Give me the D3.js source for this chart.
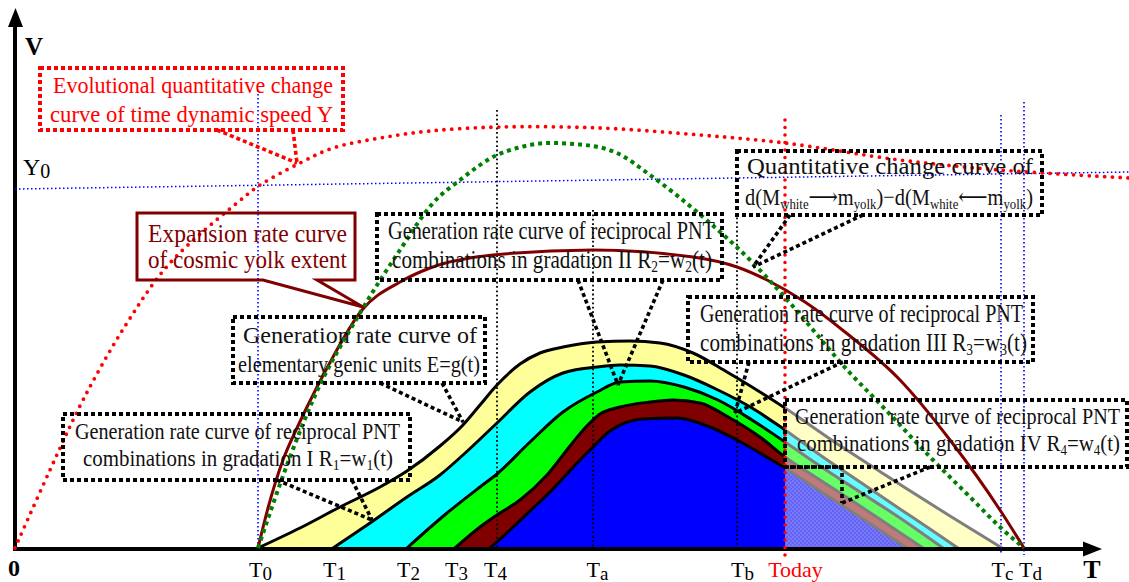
<!DOCTYPE html>
<html><head><meta charset="utf-8">
<script src="https://cdn.jsdelivr.net/npm/d3@7"></script>
<style>
html,body{margin:0;padding:0;background:#fff;}
svg{display:block;}
svg text{font-family:"Liberation Serif","Times New Roman","DejaVu Serif",serif;white-space:pre;}
</style></head><body>
<svg id="chart" width="1129" height="582"></svg>
<script>
// ---------------- DATA (time T in arbitrary units, rate V in arbitrary units) ----------------
const tickMain  = ["T","T","T","T","T","T","T","Today","T","T"];
const tickSubs  = ["0","1","2","3","4","a","b","","c","d"];
const tickTimes = [24.3, 31.8, 39.2, 44.0, 48.2, 57.8, 72.2, 77.0, 98.6, 100.9];

// Evolutional quantitative change curve of time dynamic speed Y
const speedY = [[0,0],[3.5,7.8],[6.8,14.8],[11.2,22.5],[15.5,28.5],[22.8,35.0],[24.5,36.3],[28.5,38.5],[31.8,40.0],[36.5,41.0],[41.5,41.7],[48.5,42.1],[58.5,42.0],[68.5,41.3],[77.0,40.5],[88.5,38.8],[98.5,37.8],[111.4,37.0]];
// Y0 reference level (left end, right end)
const y0Level = [[0,35.9],[111.4,37.6]];
// Quantitative change curve of d(M_white->m_yolk) - d(M_white<-m_yolk)
const quantChange = [[24.3,0],[27.5,9.1],[29.8,14.8],[34.5,23.5],[38.5,29.8],[41.8,34.5],[44.5,36.8],[48.2,39.3],[50.2,40.0],[53.5,40.5],[57.0,40.3],[60.2,39.5],[63.5,37.3],[68.8,33.1],[73.8,28.5],[77.5,24.5],[83.5,17.5],[86.8,14.1],[91.8,8.8],[95.5,5.1],[98.5,2.1],[100.9,0]];
// Expansion rate curve of cosmic yolk extent
const expansion = [[24.3,0],[25.3,4.0],[26.8,8.8],[28.2,12.0],[29.2,14.1],[31.2,18.0],[34.7,23.8],[38.5,26.6],[41.5,28.0],[47.8,29.3],[57.8,29.8],[67.8,29.1],[72.2,28.1],[75.2,26.8],[79.0,24.6],[83.0,21.6],[88.5,16.8],[93.5,10.8],[98.5,3.8],[100.9,0]];
// Generation rate curves (outer to inner)
const layerNames = ["E=g(t)","R1=w1(t)","R2=w2(t)","R3=w3(t)","R4=w4(t)"];
const genE  = [[24.3,0],[28.5,2.0],[32.5,4.1],[36.5,6.1],[39.2,7.7],[42.5,10.2],[44.8,12.3],[46.5,14.3],[48.2,16.3],[50.5,18.4],[52.5,19.5],[54.8,20.1],[58.2,20.6],[61.5,20.7],[64.5,20.5],[67.8,19.5],[71.2,17.6],[74.5,15.6],[77.0,14.0],[82.1,10.5],[85.5,8.3],[88.9,6.1],[93.5,3.2],[98.7,0]];
const genR1 = [[31.8,0],[35.5,2.5],[39.2,5.1],[42.5,7.3],[44.8,9.3],[48.2,12.5],[51.5,15.6],[54.8,17.5],[58.2,18.1],[60.5,18.3],[63.5,18.2],[66.9,17.3],[70.3,15.8],[73.7,14.0],[77.0,11.8],[80.5,9.3],[84.5,6.6],[88.5,3.9],[91.5,1.9],[94.3,0]];
const genR2 = [[39.2,0],[43.2,3.5],[46.5,6.1],[48.2,7.4],[51.5,10.6],[54.8,13.6],[58.2,15.6],[60.5,16.6],[63.5,16.7],[66.9,16.1],[70.3,14.8],[73.7,12.8],[77.0,10.6],[80.5,8.2],[84.5,5.6],[88.5,3.0],[92.8,0]];
const genR3 = [[44.0,0],[46.5,2.1],[48.2,3.3],[50.5,4.8],[53.2,7.3],[55.5,10.2],[57.0,12.0],[58.5,13.4],[60.5,14.1],[63.5,14.6],[65.8,14.8],[68.5,14.5],[71.5,13.0],[74.5,11.1],[77.0,9.1],[80.5,6.8],[84.5,4.2],[87.5,2.2],[90.8,0]];
const genR4 = [[47.5,0],[49.5,1.8],[51.5,3.7],[53.5,5.6],[55.0,7.2],[56.5,8.8],[57.8,10.1],[59.5,11.7],[62.8,12.9],[66.2,13.0],[69.5,12.1],[72.2,10.8],[74.5,9.5],[77.0,8.0],[80.5,5.7],[84.5,3.1],[89.2,0]];

// ---------------- LAYOUT / STYLE ----------------
const W = 1129, H = 582;
const SERIF = '"Liberation Serif","Times New Roman","DejaVu Serif",serif';
const x = d3.scaleLinear().domain([0, 110]).range([15, 1115]);
const y = d3.scaleLinear().domain([0, 54]).range([548, 8]);
const labelDx = [2, 1, 1, 1, -2, 4, 5, 10, 1, 6];
const guideTop = [45.8, 43.8, 33.8, 33.5, 42.8, 43.3, 44.6];
const guideIdx = [0, 4, 5, 6, 7, 8, 9];
const guideBottom = [0, 0, 0, 0, -1.2, -0.7, -0.7];
const guideStyle = ["blue","black","black","black","red","blue","blue"];
const layerDark  = ["#ffff99","#00ffff","#00ff00","#800000","#0000ff"];
const layerLight = ["#ffffc6","#66ffff","#66ff66","#c07a7a","url(#bluePat)"];

const svg = d3.select("#chart");
const defs = svg.append("defs");
const xToday = x(tickTimes[7]);
defs.append("clipPath").attr("id","clipPast").append("rect")
  .attr("x",0).attr("y",0).attr("width",xToday).attr("height",H);
defs.append("clipPath").attr("id","clipFuture").append("rect")
  .attr("x",xToday).attr("y",0).attr("width",W-xToday).attr("height",H);
const pat = defs.append("pattern").attr("id","bluePat").attr("width",4).attr("height",4).attr("patternUnits","userSpaceOnUse");
pat.append("rect").attr("width",4).attr("height",4).attr("fill","#6363f4");
pat.append("rect").attr("width",2).attr("height",2).attr("fill","#7878fb");
pat.append("rect").attr("x",2).attr("y",2).attr("width",2).attr("height",2).attr("fill","#7878fb");

const area = d3.area().x(d=>x(d[0])).y0(y(0)).y1(d=>y(d[1])).curve(d3.curveMonotoneX);
const line = d3.line().x(d=>x(d[0])).y(d=>y(d[1])).curve(d3.curveMonotoneX);

// stacked generation-rate regions
const layers = [genE, genR1, genR2, genR3, genR4];
layers.forEach((L,i)=>{
  const gp = svg.append("g").attr("clip-path","url(#clipPast)").attr("class","layer-"+i);
  gp.append("path").attr("d",area(L)).attr("fill",layerDark[i]);
  gp.append("path").attr("d",line(L)).attr("fill","none").attr("stroke","#000").attr("stroke-width",3);
  const gf = svg.append("g").attr("clip-path","url(#clipFuture)");
  gf.append("path").attr("d",area(L)).attr("fill",layerLight[i]);
  gf.append("path").attr("d",line(L)).attr("fill","none").attr("stroke","#7f7f7f").attr("stroke-width",3);
});

// axes
const xAxis = d3.axisBottom(x).tickValues(tickTimes).tickSize(0).tickFormat("");
const gx = svg.append("g").attr("transform",`translate(0,${y(0)})`).call(xAxis);
gx.select(".domain").remove();
gx.selectAll(".tick").each(function(d,i){
  const t = d3.select(this).append("text")
    .attr("x",labelDx[i]).attr("y",29).attr("text-anchor","middle")
    .attr("fill", i===7 ? "#ff0000" : "#000")
    .style("font-size","22px").style("font-family",SERIF);
  t.append("tspan").text(tickMain[i]);
  if (tickSubs[i]) t.append("tspan").attr("dy",3).style("font-size","19px").text(tickSubs[i]);
});
svg.append("line").attr("x1",x(0)).attr("y1",y(0)+1).attr("x2",1088).attr("y2",y(0)+1)
  .attr("stroke","#000").attr("stroke-width",4);
svg.append("path").attr("d","M1102,549 L1083,541.5 L1083,556.5 Z").attr("fill","#000");
svg.append("line").attr("x1",x(0)).attr("y1",y(0)+3).attr("x2",x(0)).attr("y2",22)
  .attr("stroke","#000").attr("stroke-width",4);
svg.append("path").attr("d","M15.5,8 L8,27 L23,27 Z").attr("fill","#000");

svg.append("text").attr("x",14).attr("y",576).attr("text-anchor","middle")
  .style("font-size","24px").style("font-weight","bold").text("0");
svg.append("text").attr("x",25).attr("y",55)
  .style("font-size","25px").style("font-weight","bold").text("V");
svg.append("text").attr("x",1092).attr("y",578).attr("text-anchor","middle")
  .style("font-size","26px").style("font-weight","bold").text("T");
const y0t = svg.append("text").attr("x",23).attr("y",175).style("font-size","24px");
y0t.append("tspan").text("Y");
y0t.append("tspan").attr("dy",3).style("font-size","20px").text("0");

// reference guides
const guideStroke = {
  blue:{c:"#0000ff",w:1.6,d:"1.6 2.4",cap:"butt"},
  black:{c:"#000",w:1.8,d:"1.8 2.6",cap:"butt"},
  red:{c:"#ff0000",w:3.6,d:"0 7.5",cap:"round"}
};
guideIdx.forEach((k,j)=>{
  const s = guideStroke[guideStyle[j]];
  svg.append("line").attr("x1",x(tickTimes[k])).attr("x2",x(tickTimes[k]))
    .attr("y1",y(guideTop[j])).attr("y2",y(guideBottom[j]))
    .attr("stroke",s.c).attr("stroke-width",s.w).attr("stroke-dasharray",s.d).attr("stroke-linecap",s.cap);
});
svg.append("path").attr("d",d3.line().x(d=>x(d[0])).y(d=>y(d[1]))(y0Level))
  .attr("stroke","#0000ff").attr("stroke-width",1.5).attr("stroke-dasharray","1.5 2.5").attr("fill","none");

// curves
svg.append("path").attr("d",line(expansion)).attr("fill","none").attr("stroke","#800000").attr("stroke-width",3);
svg.append("path").attr("d",line(quantChange)).attr("fill","none").attr("stroke","#008000").attr("stroke-width",4).attr("stroke-dasharray","4 4");
svg.append("path").attr("d",d3.line().x(d=>x(d[0])).y(d=>y(d[1])).curve(d3.curveCatmullRom.alpha(0.5))(speedY))
  .attr("fill","none").attr("stroke","#ff0000").attr("stroke-width",3.8).attr("stroke-dasharray","0 7.8").attr("stroke-linecap","round");

// annotations
function parseSegs(s){
  const out=[]; const re=/_\{([^}]*)\}/g; let last=0, m;
  while((m=re.exec(s))){ if(m.index>last) out.push({t:s.slice(last,m.index),sub:false}); out.push({t:m[1],sub:true}); last=re.lastIndex; }
  if(last<s.length) out.push({t:s.slice(last),sub:false});
  return out;
}
function drawText(g,str,x1,x2,yb,size,fill){
  const t = g.append("text").attr("x",x1).attr("y",yb).attr("fill",fill)
    .style("font-size",size+"px").style("font-family",SERIF)
    .attr("textLength",x2-x1).attr("lengthAdjust","spacingAndGlyphs");
  let down=false;
  parseSegs(str).forEach(s=>{
    const sp=t.append("tspan").text(s.t);
    if(s.sub){ sp.style("font-size",Math.round(size*0.64)+"px"); if(!down){sp.attr("dy",4); down=true;} }
    else if(down){ sp.attr("dy",-4); down=false; }
  });
}
const notes = [
  {box:[40,68,343,130], color:"#ff0000", text:"#ff0000", size:24,
   lines:[["Evolutional quantitative change",53,333,93],["curve of time dynamic speed Y",50,333,122]],
   callouts:[[[217,130],[297,163]],[[293,130],[297,163]]]},
  {shape:"M137,213 H355 V280 H317 L363,307 L263,280 H137 Z", color:"#800000", text:"#800000", size:25,
   lines:[["Expansion rate curve",148,347,242],["of cosmic yolk extent",148,347,268]], callouts:[]},
  {box:[737,151,1042,215], color:"#000", text:"#111", size:24,
   lines:[["Quantitative change curve of",747,1033,174],["d(M_{white}⟶m_{yolk})−d(M_{white}⟵m_{yolk})",745,1033,205]],
   callouts:[[[790,215],[753,267]],[[863,215],[753,267]]]},
  {box:[377,214,722,280], color:"#000", text:"#111", size:25,
   lines:[["Generation rate curve of reciprocal PNT",388,715,239],["combinations in gradation II R_{2}=w_{2}(t)",392,712,268]],
   callouts:[[[578,280],[618,385]],[[663,280],[618,385]]]},
  {box:[233,317,485,383], color:"#000", text:"#111", size:23,
   lines:[["Generation rate curve of",243,477,343],["elementary genic units E=g(t)",238,480,372]],
   callouts:[[[380,383],[463,422]],[[442,383],[463,422]]]},
  {box:[63,414,410,480], color:"#000", text:"#111", size:23,
   lines:[["Generation rate curve of reciprocal PNT",75,400,439],["combinations in gradation I R_{1}=w_{1}(t)",83,393,466]],
   callouts:[[[277,480],[372,520]],[[352,480],[372,520]]]},
  {box:[688,297,1033,362], color:"#000", text:"#111", size:25,
   lines:[["Generation rate curve of reciprocal PNT",700,1023,322],["combinations in gradation III R_{3}=w_{3}(t)",700,1027,351]],
   callouts:[[[749,362],[735,413]],[[843,362],[735,413]]]},
  {box:[785,400,1127,467], color:"#000", text:"#111", size:24,
   lines:[["Generation rate curve of reciprocal PNT",795,1120,424],["combinations in gradation IV R_{4}=w_{4}(t)",797,1120,451]],
   callouts:[[[785,467],[842,467],[842,503]],[[930,467],[842,503]]]}
];
const ln = d3.line();
notes.forEach(n=>{
  const g = svg.append("g");
  if(n.box){
    const [x1,y1,x2,y2]=n.box;
    g.append("rect").attr("x",x1).attr("y",y1).attr("width",x2-x1).attr("height",y2-y1)
      .attr("fill","none").attr("stroke",n.color).attr("stroke-width",4).attr("stroke-dasharray","4 3");
  } else {
    g.append("path").attr("d",n.shape).attr("fill","none").attr("stroke",n.color).attr("stroke-width",3);
  }
  n.callouts.forEach(c=>{
    g.append("path").attr("d",ln(c)).attr("fill","none").attr("stroke",n.color)
      .attr("stroke-width",3.6).attr("stroke-dasharray","4 3");
  });
  n.lines.forEach(L=>drawText(g,L[0],L[1],L[2],L[3],n.size,n.text));
});
</script>
</body></html>
